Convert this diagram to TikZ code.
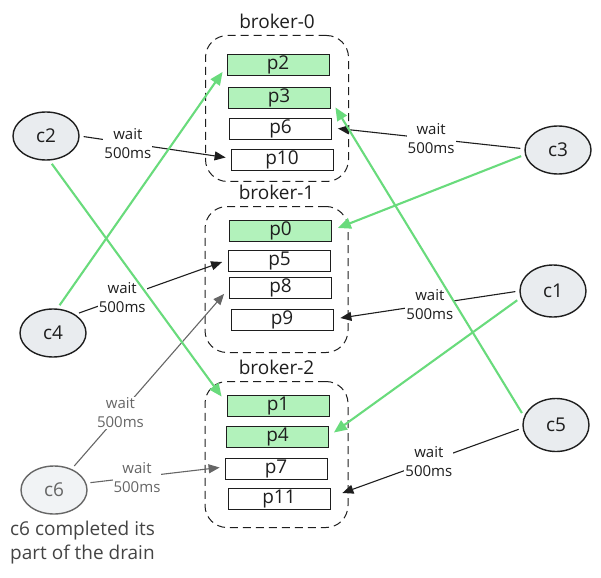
\documentclass[tikz,border=0pt]{standalone}
\usepackage{fontspec}
\setmainfont{Open Sans}
\usetikzlibrary{shapes.geometric, arrows.meta, positioning}
\definecolor{inkdark}{HTML}{1E1E1E}
\definecolor{drainfill}{HTML}{B2F2BB}
\definecolor{drainline}{HTML}{69DB7C}
\definecolor{clientfill}{HTML}{E9ECEF}
\definecolor{idlefill}{HTML}{F1F3F5}
\definecolor{idleink}{HTML}{666666}
\definecolor{noteink}{HTML}{444444}

\begin{document}
\begin{tikzpicture}[x=1pt, y=-1pt,
    client/.style={draw=inkdark, ellipse, fill=clientfill, line width=1.4pt, minimum width=66pt, minimum height=48pt, inner sep=0pt, font=\fontsize{19}{22}\selectfont, text=inkdark},
    part/.style={draw=inkdark, rectangle, line width=0.8pt, minimum width=102pt, minimum height=21pt, inner sep=0pt, font=\fontsize{19}{22}\selectfont, text=inkdark},
    done/.style={part, fill=drainfill},
    broker/.style={draw=inkdark, dash pattern=on 8pt off 5pt, rounded corners=22pt, line width=1pt, minimum width=143pt, minimum height=146pt, inner sep=0pt},
    title/.style={font=\fontsize{19}{22}\selectfont, text=inkdark, inner sep=0pt},
    tag/.style={font=\fontsize{15}{19}\selectfont, align=center, fill=white, inner sep=1pt, text=inkdark},
    fetch/.style={-{Triangle[length=11pt, width=9pt]}, inkdark, line width=1.1pt, shorten <=4pt},
    assign/.style={-{Triangle[length=13pt, width=11pt]}, drainline, line width=2.1pt, shorten <=4pt}
]
\useasboundingbox (0,0) rectangle (601,577);

% Brokers
\node[broker] (b0) at (277,108.5) {};
\node[broker] (b1) at (276.5,279.5) {};
\node[broker] (b2) at (276.5,454.5) {};
\node[title, above=6pt of b0] (b0lbl) {broker-0};
\node[title, above=6pt of b1] (b1lbl) {broker-1};
\node[title, above=6pt of b2] (b2lbl) {broker-2};

% Partitions
\node[done] (p2) at (278,65) {p2};
\node[done] (p3) at (279,97.5) {p3};
\node[part] (p6) at (280.5,128.5) {p6};
\node[part] (p10) at (282,159.5) {p10};

\node[done] (p0) at (280.5,231) {p0};
\node[part] (p5) at (279.5,261) {p5};
\node[part] (p8) at (280.5,288) {p8};
\node[part] (p9) at (282,320) {p9};

\node[done] (p1) at (278,405.5) {p1};
\node[done] (p4) at (277.5,436.5) {p4};
\node[part] (p7) at (276,468.5) {p7};
\node[part] (p11) at (279,499) {p11};

% Consumers
\node[client] (c2) at (46,136) {c2};
\node[client] (c4) at (53,333) {c4};
\node[client, fill=idlefill, draw=idleink, text=idleink] (c6) at (54,490) {c6};
\node[client] (c3) at (558,150) {c3};
\node[client, minimum height=52pt] (c1) at (553,291) {c1};
\node[client, minimum height=53pt] (c5) at (556,425) {c5};

\node[anchor=north west, align=left, inner sep=0pt, text=noteink, font=\fontsize{19}{24}\selectfont] (note) at (10,521) {c6 completed its\\part of the drain};

% Fetches that wait
\draw[fetch] (c2.east) -- node[tag, pos=0.33] (w2) {wait\\500ms} ([xshift=-5pt,yshift=2pt]p10.west);
\draw[fetch] (c3.178) -- node[tag, pos=0.5] (w3) {wait\\500ms} ([xshift=6pt]p6.east);
\draw[fetch] (c4.40) -- node[tag, pos=0.32] (w4) {wait\\500ms} ([xshift=-6pt,yshift=-1pt]p5.west);
\draw[fetch] (c1.180) -- node[tag, pos=0.5] (w1) {wait\\500ms} ([xshift=7pt,yshift=2pt]p9.east);
\draw[fetch] (c5.185) -- node[tag, pos=0.52] (w5) {wait\\500ms} ([xshift=12pt,yshift=6pt]p11.east);
\draw[fetch, idleink] (c6.50) -- node[tag, text=idleink, pos=0.32] (w6a) {wait\\500ms} ([xshift=-5pt,yshift=5pt]p8.south west);
\draw[fetch, idleink] (c6.12) -- node[tag, text=idleink, pos=0.38] (w6b) {wait\\500ms} ([xshift=-5pt,yshift=1pt]p7.west);

% Drained partitions
\draw[assign] (c4.80) -- ([xshift=-4pt,yshift=4pt]p2.south west);
\draw[assign] (c2.-82) -- ([xshift=-5pt,yshift=-2pt]p1.north west);
\draw[assign] (c3.188) -- ([xshift=6pt,yshift=3pt]p0.east);
\draw[assign] (c1.192) -- ([xshift=5pt,yshift=4pt]p4.east);
\draw[assign] (c5.165) -- ([xshift=5pt,yshift=1pt]p3.south east);

\end{tikzpicture}
\end{document}
